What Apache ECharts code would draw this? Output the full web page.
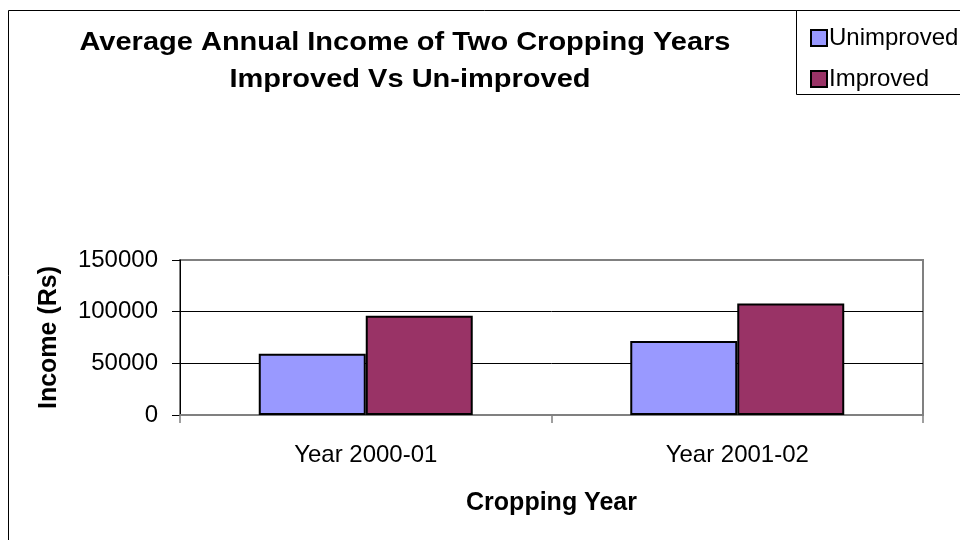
<!DOCTYPE html>
<html>
<head>
<meta charset="utf-8">
<script src="https://cdn.jsdelivr.net/npm/echarts@6/dist/echarts.min.js"></script>
<style>html,body{margin:0;padding:0;background:#fff}#c{width:960px;height:540px}</style>
</head>
<body>
<div id="c"></div>
<script>
const categories = ['Year 2000-01', 'Year 2001-02'];
const unimproved = [59300, 71500];
const improved = [96000, 108000];
const seriesNames = ['Unimproved', 'Improved'];
const titleLines = ['Average Annual Income of Two Cropping Years', 'Improved Vs Un-improved'];
const yTicks = { min: 0, max: 150000, interval: 50000 };

const FONT = '"Liberation Sans", Arial, sans-serif';
const chart = echarts.init(document.getElementById('c'), null, { renderer: 'canvas' });
chart.setOption({
  backgroundColor: '#fff',
  animation: false,
  graphic: [
    { type: 'rect', z: -10, shape: { x: 8.5, y: 10.5, width: 2000, height: 2000 }, style: { fill: '#fff', stroke: '#000', lineWidth: 1 } },
    { type: 'rect', z: 0, shape: { x: 796.5, y: 10.5, width: 300, height: 84 }, style: { fill: '#fff', stroke: '#000', lineWidth: 1 } },
    { type: 'text', z: 5, x: 405, y: 43, scaleX: 1.16, style: { text: titleLines[0], font: 'bold 25px ' + FONT, fill: '#000', textAlign: 'center', textVerticalAlign: 'middle' } },
    { type: 'text', z: 5, x: 410, y: 80, scaleX: 1.16, style: { text: titleLines[1], font: 'bold 25px ' + FONT, fill: '#000', textAlign: 'center', textVerticalAlign: 'middle' } }
  ],
  legend: {
    orient: 'vertical', left: 805, top: 21, z: 10,
    itemWidth: 16, itemHeight: 16, itemGap: 17,
    icon: 'rect',
    textStyle: { fontFamily: FONT, fontSize: 24, color: '#000', lineHeight: 24, padding: [0, 0, 0, -3] },
    data: seriesNames
  },
  grid: { left: 180, right: 37, top: 260, bottom: 125, show: true, borderColor: '#808080', borderWidth: 2, backgroundColor: 'transparent' },
  xAxis: {
    type: 'category', data: categories,
    axisLine: { lineStyle: { color: '#808080', width: 2 } },
    axisTick: { show: true, alignWithLabel: false, length: 8, lineStyle: { color: '#808080', width: 1.5 } },
    axisLabel: { fontFamily: FONT, fontSize: 24, color: '#000', margin: 28 },
    name: 'Cropping Year', nameLocation: 'middle', nameGap: 76,
    nameTextStyle: { fontFamily: FONT, fontSize: 25, fontWeight: 'bold', color: '#000' }
  },
  yAxis: {
    type: 'value', min: yTicks.min, max: yTicks.max, interval: yTicks.interval,
    axisLine: { show: true, lineStyle: { color: '#000', width: 1 } },
    axisTick: { show: true, length: 8, lineStyle: { color: '#000' } },
    axisLabel: { fontFamily: FONT, fontSize: 24, color: '#000', margin: 22, formatter: v => String(v) },
    splitLine: { show: true, lineStyle: { color: ['#808080', '#000', '#000', '#808080'], width: 1 } },
    name: 'Income (Rs)', nameLocation: 'middle', nameGap: 118,
    nameTextStyle: { fontFamily: FONT, fontSize: 25, fontWeight: 'bold', color: '#000' }
  },
  series: [
    { name: seriesNames[0], type: 'bar', data: unimproved, barWidth: '28.8%', barGap: '0%',
      itemStyle: { color: '#9999FF', borderColor: '#000', borderWidth: 2 } },
    { name: seriesNames[1], type: 'bar', data: improved, barWidth: '28.8%', barGap: '0%',
      itemStyle: { color: '#993366', borderColor: '#000', borderWidth: 2 } }
  ]
});
</script>
</body>
</html>
